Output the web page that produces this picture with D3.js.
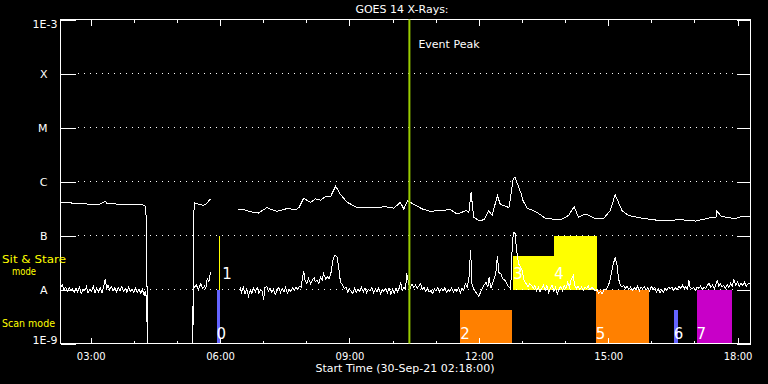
<!DOCTYPE html>
<meta charset="utf-8">
<style>
  body { margin: 0; background: #000; }
  svg { display: block; background: #000; font-family: "DejaVu Sans", sans-serif; }
  .frame { fill: none; stroke: #fff; shape-rendering: crispEdges; }
  .axis path { display: none; }
  .axis line { stroke: #fff; shape-rendering: crispEdges; }
  .axis text { fill: #fff; font-family: "DejaVu Sans", sans-serif; }
  .grid { stroke: #fff; stroke-dasharray: 1 5; shape-rendering: crispEdges; }
  .flux { fill: none; stroke: #fff; stroke-width: 1px; shape-rendering: crispEdges; }
  .peak { stroke: #99cc00; stroke-width: 2px; }
  .mode-label { fill: #ffff00; font-size: 11px; }
  .bar-label { fill: #fff; font-size: 15px; }
  .bar { shape-rendering: crispEdges; }
</style>

<body>
  <script src="https://cdn.jsdelivr.net/npm/d3@7"></script>
  <script>

    // y axis levels (flux, W/m^2) and their flare-class labels
    var levelFlux = [1e-9, 1e-8, 1e-7, 1e-6, 1e-5, 1e-4, 1e-3];
    var levelLabels = ["1E-9", "A", "B", "C", "M", "X", "1E-3"];

    // x axis, hours of 30-Sep-21
    var startHour = 2.3;
    var endHour = 18.3;
    var majorHours = [3, 6, 9, 12, 15, 18];
    var minorHours = [3, 4, 5, 6, 7, 8, 9, 10, 11, 12, 13, 14, 15, 16, 17, 18];
    var eventPeakHour = 10.39;

    // GOES 14 long channel [hour, flux]; null = no data
    var longFlux = [
      [2.30,4.0e-7],[2.40,4.1e-7],[2.55,4.0e-7],[2.75,3.9e-7],[3.00,3.8e-7],[3.20,3.8e-7],[3.30,4.1e-7],
      [3.34,4.3e-7],[3.38,3.9e-7],[3.45,4.0e-7],[3.60,3.8e-7],[3.80,3.8e-7],[4.00,3.7e-7],[4.20,3.7e-7],
      [4.27,3.5e-7],[4.29,1.9e-7],[4.32,1e-10],[5.37,1e-10],[5.38,2.1e-7],[5.41,4.0e-7],[5.50,3.8e-7],
      [5.62,3.6e-7],[5.70,4.0e-7],[5.78,4.8e-7],[6.00,null],
      [6.41,3.1e-7],[6.55,3.0e-7],[6.75,2.7e-7],[6.89,2.6e-7],[7.09,3.3e-7],[7.20,3.0e-7],[7.32,2.8e-7],
      [7.52,3.1e-7],[7.63,3.1e-7],[7.75,3.0e-7],[7.83,3.3e-7],[7.94,4.9e-7],[8.10,4.1e-7],[8.21,4.8e-7],
      [8.33,4.5e-7],[8.45,5.3e-7],[8.56,5.2e-7],[8.68,8.2e-7],[8.79,5.8e-7],[8.95,4.1e-7],[9.18,3.3e-7],
      [9.56,3.3e-7],[9.84,3.4e-7],[10.03,3.2e-7],[10.18,4.1e-7],[10.26,3.1e-7],[10.35,4.4e-7],[10.46,3.9e-7],
      [10.69,3.1e-7],[10.88,2.8e-7],[11.07,2.9e-7],[11.34,3.0e-7],[11.50,2.5e-7],[11.71,2.9e-7],[11.77,2.7e-7],
      [11.82,6.3e-7],[11.88,2.2e-7],[12.00,1.9e-7],[12.12,1.95e-7],[12.23,2.9e-7],[12.31,2.35e-7],[12.43,5.5e-7],
      [12.50,3.75e-7],[12.70,3.3e-7],[12.80,1.15e-6],[12.84,1.2e-6],[12.92,8.0e-7],[12.98,6.0e-7],[13.02,4.5e-7],
      [13.12,3.2e-7],[13.31,2.8e-7],[13.54,2.1e-7],[13.73,2.0e-7],[13.92,2.0e-7],[14.08,2.35e-7],[14.21,3.4e-7],
      [14.31,2.2e-7],[14.48,2.5e-7],[14.70,2.05e-7],[14.89,2.05e-7],[15.05,2.9e-7],[15.16,5.7e-7],[15.32,2.9e-7],
      [15.47,2.35e-7],[15.78,2.1e-7],[16.17,1.9e-7],[16.71,1.95e-7],[17.02,1.85e-7],[17.33,2.1e-7],[17.50,2.2e-7],
      [17.52,2.8e-7],[17.63,2.25e-7],[17.94,2.05e-7],[18.10,2.25e-7],[18.30,2.3e-7]
    ];

    // GOES 14 short channel [hour, flux]
    var shortFlux = [
      [2.30,1.05e-8],[2.34,1.25e-8],[2.38,1.0e-8],[2.42,1.1e-8],[2.46,9.2e-9],[2.50,1.08e-8],[2.54,9.6e-9],
      [2.58,1.02e-8],[2.62,8.8e-9],[2.66,1.05e-8],[2.70,9.0e-9],[2.74,1.1e-8],[2.78,8.4e-9],[2.82,1.0e-8],
      [2.86,9.4e-9],[2.90,1.12e-8],[2.94,8.6e-9],[2.98,1.0e-8],[3.02,9.2e-9],[3.06,1.15e-8],[3.10,8.5e-9],
      [3.14,1.05e-8],[3.18,9.0e-9],[3.22,1.08e-8],[3.26,8.6e-9],[3.30,1.1e-8],[3.34,1.58e-8],[3.37,1.0e-8],
      [3.40,1.2e-8],[3.44,9.8e-9],[3.48,1.12e-8],[3.52,9.5e-9],[3.56,1.1e-8],[3.60,9.0e-9],[3.64,1.08e-8],
      [3.68,9.6e-9],[3.72,1.14e-8],[3.76,9.2e-9],[3.80,1.05e-8],[3.84,8.8e-9],[3.88,1.1e-8],[3.92,9.3e-9],
      [3.96,1.0e-8],[4.00,8.7e-9],[4.04,1.06e-8],[4.08,9.0e-9],[4.12,1.02e-8],[4.16,8.6e-9],[4.20,1.0e-8],
      [4.24,7.8e-9],[4.27,9.4e-9],[4.29,7.0e-9],[4.32,1e-10],[5.37,1e-10],[5.38,1.28e-8],[5.41,1.1e-8],
      [5.45,1.2e-8],[5.50,1.0e-8],[5.55,1.28e-8],[5.60,1.05e-8],[5.64,1.15e-8],[5.67,1.03e-8],[5.70,1.58e-8],
      [5.74,1.4e-8],[5.78,2.1e-8],[6.00,null],
      [6.43,9.6e-9],[6.47,1.05e-8],[6.50,8.8e-9],[6.54,1.1e-8],[6.58,8.2e-9],[6.62,1.02e-8],[6.66,7.6e-9],
      [6.70,9.8e-9],[6.74,8.5e-9],[6.78,1.05e-8],[6.82,9.0e-9],[6.86,1.1e-8],[6.90,8.6e-9],[6.94,1.0e-8],
      [6.98,9.2e-9],[7.01,6.3e-9],[7.04,1.08e-8],[7.08,1.14e-8],[7.12,9.4e-9],[7.16,1.06e-8],[7.20,8.8e-9],
      [7.24,1.02e-8],[7.28,8.0e-9],[7.32,9.6e-9],[7.36,1.1e-8],[7.40,8.8e-9],[7.44,1.04e-8],[7.48,9.0e-9],
      [7.52,1.1e-8],[7.56,8.6e-9],[7.60,1.0e-8],[7.64,9.2e-9],[7.68,1.08e-8],[7.72,9.6e-9],[7.76,1.12e-8],
      [7.80,1.0e-8],[7.84,1.15e-8],[7.88,1.1e-8],[7.91,1.6e-8],[7.94,2.2e-8],[7.97,1.5e-8],[8.01,1.3e-8],
      [8.05,1.6e-8],[8.10,1.28e-8],[8.14,1.5e-8],[8.18,1.65e-8],[8.21,1.4e-8],[8.25,1.5e-8],[8.29,1.31e-8],
      [8.33,1.7e-8],[8.37,1.5e-8],[8.40,1.95e-8],[8.45,1.58e-8],[8.49,1.7e-8],[8.53,1.6e-8],[8.57,2.0e-8],
      [8.62,3.5e-8],[8.66,4.3e-8],[8.71,4.0e-8],[8.75,2.6e-8],[8.79,1.4e-8],[8.84,1.2e-8],[8.88,1.05e-8],
      [8.92,1.1e-8],[8.96,9.0e-9],[9.00,1.03e-8],[9.04,9.2e-9],[9.08,8.5e-9],[9.12,1.05e-8],[9.16,8.9e-9],
      [9.20,1.0e-8],[9.24,9.3e-9],[9.28,1.1e-8],[9.32,9.0e-9],[9.36,1.05e-8],[9.40,8.6e-9],[9.44,1.0e-8],
      [9.48,9.4e-9],[9.52,1.1e-8],[9.56,8.8e-9],[9.60,1.02e-8],[9.64,9.0e-9],[9.68,1.08e-8],[9.72,8.3e-9],
      [9.76,1.0e-8],[9.80,9.2e-9],[9.84,1.03e-8],[9.88,8.8e-9],[9.92,1.06e-8],[9.96,8.2e-9],[10.00,1.0e-8],
      [10.04,8.6e-9],[10.08,1.05e-8],[10.12,9.0e-9],[10.16,1.1e-8],[10.19,1.37e-8],[10.22,9.5e-9],[10.26,1.1e-8],
      [10.30,1.0e-8],[10.33,2.0e-8],[10.37,1.3e-8],[10.41,1.05e-8],[10.45,1.28e-8],[10.49,1.1e-8],[10.53,1.2e-8],
      [10.57,1.05e-8],[10.61,1.15e-8],[10.65,1.28e-8],[10.69,1.0e-8],[10.73,1.1e-8],[10.77,9.2e-9],[10.81,1.05e-8],
      [10.85,9.0e-9],[10.89,9.6e-9],[10.93,8.4e-9],[10.97,1.02e-8],[11.01,9.4e-9],[11.05,1.1e-8],[11.09,9.0e-9],
      [11.13,1.05e-8],[11.17,9.6e-9],[11.21,1.08e-8],[11.25,8.8e-9],[11.29,1.0e-8],[11.33,9.2e-9],[11.37,1.06e-8],
      [11.41,8.9e-9],[11.45,1.0e-8],[11.49,9.3e-9],[11.53,1.08e-8],[11.57,8.6e-9],[11.61,1.04e-8],[11.65,9.6e-9],
      [11.69,1.28e-8],[11.73,1.1e-8],[11.77,1.58e-8],[11.81,5.3e-8],[11.84,1.3e-8],[11.88,1.03e-8],[11.92,9.0e-9],
      [11.96,8.3e-9],[12.00,7.5e-9],[12.04,8.9e-9],[12.08,1.05e-8],[12.12,1.2e-8],[12.17,1.37e-8],[12.21,1.1e-8],
      [12.24,1.69e-8],[12.28,1.05e-8],[12.32,1.3e-8],[12.36,1.6e-8],[12.40,2.2e-8],[12.43,4.1e-8],[12.47,2.0e-8],
      [12.51,1.95e-8],[12.55,1.6e-8],[12.60,1.5e-8],[12.65,1.28e-8],[12.70,1.1e-8],[12.74,1.03e-8],[12.77,5.0e-8],
      [12.80,1.15e-7],[12.84,1.1e-7],[12.88,5.0e-8],[12.92,3.0e-8],[12.97,2.6e-8],[13.01,2.2e-8],[13.05,1.47e-8],
      [13.10,1.28e-8],[13.14,1.1e-8],[13.18,1.28e-8],[13.22,1.2e-8],[13.26,1.05e-8],[13.30,1.2e-8],[13.34,9.5e-9],
      [13.38,1.1e-8],[13.42,8.9e-9],[13.46,1.05e-8],[13.50,1.2e-8],[13.54,9.6e-9],[13.58,1.19e-8],[13.62,8.8e-9],
      [13.66,1.05e-8],[13.70,1.2e-8],[13.74,9.2e-9],[13.78,1.1e-8],[13.82,8.3e-9],[13.86,1.0e-8],[13.90,1.15e-8],
      [13.94,9.6e-9],[13.98,1.2e-8],[14.02,1.05e-8],[14.06,1.35e-8],[14.10,1.1e-8],[14.14,1.5e-8],[14.19,1.82e-8],
      [14.22,1.2e-8],[14.26,1.05e-8],[14.30,1.15e-8],[14.34,1.0e-8],[14.38,1.1e-8],[14.42,9.6e-9],[14.46,1.1e-8],
      [14.50,1.05e-8],[14.54,1.15e-8],[14.58,9.8e-9],[14.62,1.1e-8],[14.66,1.03e-8],[14.70,9.4e-9],[14.74,1.0e-8],
      [14.78,8.6e-9],[14.82,9.2e-9],[14.86,8.3e-9],[14.90,1.0e-8],[14.94,1.0e-8],[14.98,1.1e-8],[15.02,1.3e-8],
      [15.05,1.58e-8],[15.10,2.6e-8],[15.16,3.9e-8],[15.20,3.0e-8],[15.24,1.58e-8],[15.28,1.2e-8],[15.32,1.1e-8],
      [15.36,1.2e-8],[15.40,1.05e-8],[15.44,1.15e-8],[15.48,1.0e-8],[15.52,1.12e-8],[15.56,9.6e-9],[15.60,1.08e-8],
      [15.64,1.0e-8],[15.68,1.15e-8],[15.72,9.4e-9],[15.76,1.1e-8],[15.80,1.05e-8],[15.84,1.12e-8],[15.88,9.8e-9],
      [15.92,1.08e-8],[15.96,9.2e-9],[16.00,1.15e-8],[16.04,1.0e-8],[16.08,1.1e-8],[16.12,9.0e-9],[16.16,1.05e-8],
      [16.20,8.6e-9],[16.24,9.8e-9],[16.28,8.9e-9],[16.32,1.05e-8],[16.36,9.5e-9],[16.40,1.1e-8],[16.44,1.03e-8],
      [16.48,1.12e-8],[16.52,9.6e-9],[16.56,1.08e-8],[16.60,1.0e-8],[16.64,1.15e-8],[16.68,1.05e-8],[16.72,1.2e-8],
      [16.76,1.05e-8],[16.80,1.12e-8],[16.84,1.0e-8],[16.87,1.51e-8],[16.90,1.1e-8],[16.94,1.02e-8],[16.98,1.1e-8],
      [17.02,9.8e-9],[17.06,1.12e-8],[17.10,1.05e-8],[17.14,1.15e-8],[17.18,1.0e-8],[17.22,1.1e-8],[17.26,1.05e-8],
      [17.30,1.2e-8],[17.34,1.3e-8],[17.38,1.1e-8],[17.42,1.2e-8],[17.46,1.05e-8],[17.50,1.25e-8],[17.53,1.51e-8],
      [17.56,1.15e-8],[17.60,1.28e-8],[17.64,1.1e-8],[17.68,1.2e-8],[17.72,1.05e-8],[17.76,1.25e-8],[17.80,1.1e-8],
      [17.84,1.3e-8],[17.88,1.15e-8],[17.91,1.58e-8],[17.96,1.2e-8],[18.00,1.4e-8],[18.04,1.15e-8],[18.08,1.3e-8],
      [18.12,1.2e-8],[18.16,1.37e-8],[18.20,1.15e-8],[18.25,1.3e-8],[18.30,1.3e-8]
    ];

    // observing intervals
    var eventIds   = ["0", "1", "2", "3", "4", "5", "6", "7"];
    var eventStart = [5.92, 5.98, 11.57, 12.80, 13.75, 14.71, 16.52, 17.05];
    var eventEnd   = [5.99, 6.00, 12.78, 13.75, 14.73, 15.94, 16.63, 17.86];
    var eventTop   = [1e-8, 1e-7, 4.1e-9, 4.1e-8, 1e-7, 1e-8, 4.1e-9, 1e-8];
    var eventMode  = ["scan", "sit", "scan", "sit", "sit", "scan", "scan", "scan"];
    var eventGroup = ["a", "s", "b", "s", "s", "b", "a", "c"];

    var margin = {top: 19, right: 18, bottom: 41, left: 60};
    var width = 768 - margin.left - margin.right;
    var height = 384 - margin.top - margin.bottom;

    var x = d3.scaleLinear().domain([startHour, endHour]).range([0, width]);
    var y = d3.scaleLog().domain([1e-9, 1e-3]).range([height, 0]).clamp(true);
    var color = d3.scaleOrdinal()
        .domain(["a", "b", "c", "s"])
        .range(["#6464ff", "#ff8000", "#c800c8", "#ffff00"]);

    var svg0 = d3.select("body").append("svg")
        .attr("width", 768)
        .attr("height", 384);

    var svg = svg0.append("g")
        .attr("transform", "translate(" + (margin.left + 0.5) + "," + (margin.top + 0.5) + ")");

    // interval bars
    var events = eventIds.map(function(id, i) {
      return {id: id, start: eventStart[i], end: eventEnd[i], top: eventTop[i],
              bottom: eventMode[i] == "sit" ? 1e-8 : 1e-9, mode: eventMode[i], group: eventGroup[i]};
    });

    svg.selectAll(".bar")
      .data(events)
      .enter().append("rect")
        .attr("class", "bar")
        .attr("x", function(d) { return x(d.start); })
        .attr("width", function(d) { return Math.max(1, x(d.end) - x(d.start)); })
        .attr("y", function(d) { return y(d.top); })
        .attr("height", function(d) { return y(d.bottom) - y(d.top); })
        .attr("fill", function(d) { return color(d.group); });

    // dotted level lines
    svg.selectAll(".grid")
      .data(levelFlux.slice(1, -1))
      .enter().append("line")
        .attr("class", "grid")
        .attr("x1", 17).attr("x2", width - 14)
        .attr("y1", function(d) { return y(d); })
        .attr("y2", function(d) { return y(d); });

    var fmtHour = function(h) { return (h < 10 ? "0" : "") + h + ":00"; };

    // bottom axis
    svg.append("g")
      .attr("class", "axis")
      .attr("transform", "translate(0," + height + ")")
      .style("font-size", "10px")
      .call(d3.axisBottom(x).tickValues(majorHours).tickSizeInner(-6).tickSizeOuter(0)
            .tickPadding(9).tickFormat(fmtHour));
    svg.append("g")
      .attr("class", "axis")
      .attr("transform", "translate(0," + height + ")")
      .call(d3.axisBottom(x).tickValues(minorHours).tickSize(-3).tickFormat(""));

    // top axis
    svg.append("g")
      .attr("class", "axis")
      .call(d3.axisTop(x).tickValues(majorHours).tickSizeInner(-6).tickSizeOuter(0).tickFormat(""));
    svg.append("g")
      .attr("class", "axis")
      .call(d3.axisTop(x).tickValues(minorHours).tickSize(-3).tickFormat(""));

    // left axis with class labels
    var yLeft = svg.append("g")
      .attr("class", "axis")
      .style("font-size", "11px")
      .call(d3.axisLeft(y).tickValues(levelFlux).tickSizeInner(-15).tickSizeOuter(0)
            .tickPadding(13).tickFormat(function(d, i) { return levelLabels[i]; }));
    yLeft.selectAll(".tick text")
      .filter(function(d) { return d == 1e-9 || d == 1e-3; })
      .attr("x", -3)
      .attr("dy", function(d) { return d == 1e-3 ? "0.75em" : "0em"; });

    svg.append("g")
      .attr("class", "axis")
      .attr("transform", "translate(" + width + ",0)")
      .call(d3.axisRight(y).tickValues(levelFlux).tickSizeInner(-14).tickSizeOuter(0).tickFormat(""));

    // frame
    svg.append("rect")
      .attr("class", "frame")
      .attr("width", width)
      .attr("height", height);

    // flux curves
    var line = d3.line()
        .defined(function(d) { return d[1] != null; })
        .x(function(d) { return x(d[0]); })
        .y(function(d) { return y(d[1]); });

    svg.append("path").datum(longFlux).attr("class", "flux").attr("d", line);
    svg.append("path").datum(shortFlux).attr("class", "flux").attr("d", line);

    // event peak
    svg.append("line")
      .attr("class", "peak")
      .attr("x1", x(eventPeakHour)).attr("x2", x(eventPeakHour))
      .attr("y1", 0).attr("y2", height);
    svg.append("text")
      .attr("x", x(eventPeakHour) + 9)
      .attr("y", 28)
      .attr("fill", "#fff")
      .style("font-size", "11px")
      .text("Event Peak");

    // bar labels
    svg.selectAll(".bar-label")
      .data(events)
      .enter().append("text")
        .attr("class", "bar-label")
        .attr("x", function(d) { return x(d.start) + (d.id == "1" ? 3 : 0); })
        .attr("y", function(d) { return d.mode == "sit" ? y(1e-8) - 11 : y(1e-9) - 5; })
        .text(function(d) { return d.id; });

    // titles
    svg0.append("text")
      .attr("x", 402).attr("y", 13)
      .attr("text-anchor", "middle")
      .attr("fill", "#fff")
      .style("font-size", "11px")
      .text("GOES 14 X-Rays:");

    svg0.append("text")
      .attr("x", 405).attr("y", 372)
      .attr("text-anchor", "middle")
      .attr("fill", "#fff")
      .style("font-size", "11px")
      .text("Start Time (30-Sep-21 02:18:00)");

    svg0.append("text").attr("class", "mode-label").attr("x", 2).attr("y", 263)
      .attr("textLength", 64).attr("lengthAdjust", "spacingAndGlyphs").text("Sit & Stare");
    svg0.append("text").attr("class", "mode-label").attr("x", 12).attr("y", 275)
      .attr("textLength", 24).attr("lengthAdjust", "spacingAndGlyphs").text("mode");
    svg0.append("text").attr("class", "mode-label").attr("x", 2).attr("y", 327)
      .attr("textLength", 53).attr("lengthAdjust", "spacingAndGlyphs").text("Scan mode");

  </script>
</body>
